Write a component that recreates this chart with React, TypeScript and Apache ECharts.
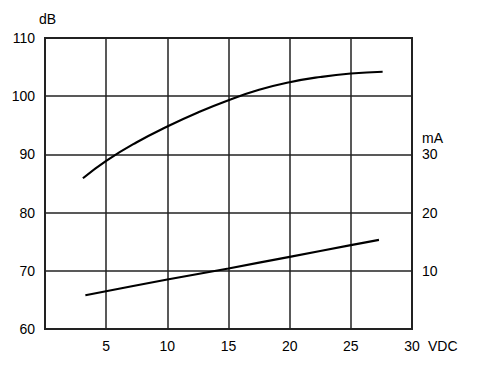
import React, { useEffect, useRef } from "react";
import * as echarts from "echarts";

const voltsDb = [3.1, 5, 7.5, 10, 12.5, 15, 17.5, 20, 22.5, 25, 27.6];
const dbValues = [85.9, 88.9, 92.1, 94.8, 97.2, 99.3, 101.1, 102.4, 103.3, 103.9, 104.2];
const voltsMa = [3.3, 10, 15, 20, 25, 27.3];
const maValues = [5.8, 8.5, 10.4, 12.4, 14.4, 15.3];
const rightTickLabels = [10, 20, 30];

const FONT = "'Liberation Sans', Arial, sans-serif";
const INK = "#000";
const GRID = "#222";

export default function App() {
  const ref = useRef<HTMLDivElement>(null);
  useEffect(() => {
    if (!ref.current) return;
    const chart = echarts.init(ref.current, null, { renderer: "svg" });
    const lastDb = voltsDb.length - 1;
    const lastMa = voltsMa.length - 1;
    chart.setOption({
      animation: false,
      backgroundColor: "#fff",
      grid: {
        left: 45,
        right: 66,
        top: 38,
        bottom: 49,
        show: true,
        borderColor: GRID,
        borderWidth: 2,
      },
      xAxis: {
        type: "value",
        min: 0,
        max: 30,
        interval: 5,
        name: "VDC",
        nameLocation: "end",
        nameGap: 16,
        nameTextStyle: {
          color: INK,
          fontFamily: FONT,
          fontSize: 14,
          verticalAlign: "top",
          padding: [10, 0, 0, 0],
        },
        axisLine: { show: true, lineStyle: { color: GRID, width: 2 } },
        axisTick: { show: false },
        axisLabel: {
          color: INK,
          fontFamily: FONT,
          fontSize: 14,
          margin: 10,
          formatter: (v: number) => (v === 0 ? "" : String(v)),
        },
        splitLine: { show: true, lineStyle: { color: GRID, width: 1.5 } },
      },
      yAxis: [
        {
          type: "value",
          min: 60,
          max: 110,
          interval: 10,
          name: "dB",
          nameLocation: "end",
          nameGap: 12,
          nameTextStyle: {
            color: INK,
            fontFamily: FONT,
            fontSize: 14,
            padding: [0, 0, 0, 5],
          },
          axisLine: { show: true, lineStyle: { color: GRID, width: 2 } },
          axisTick: { show: false },
          axisLabel: { color: INK, fontFamily: FONT, fontSize: 14, margin: 10 },
          splitLine: { show: true, lineStyle: { color: GRID, width: 1.5 } },
        },
        {
          type: "value",
          min: 0,
          max: 50,
          interval: 10,
          position: "right",
          axisLine: { show: false },
          axisTick: { show: false },
          axisLabel: {
            color: INK,
            fontFamily: FONT,
            fontSize: 14,
            margin: 10,
            formatter: (v: number) =>
              rightTickLabels.includes(v) ? String(v) : "",
          },
          splitLine: { show: false },
        },
      ],
      graphic: [
        {
          type: "text",
          left: 422,
          top: 131,
          style: { text: "mA", fill: INK, font: `14px ${FONT}` },
        },
      ],
      series: [
        {
          type: "line",
          yAxisIndex: 0,
          smooth: 0.5,
          showSymbol: false,
          symbol: "none",
          lineStyle: { color: "#000", width: 2.2 },
          data: voltsDb.map((x, i) => {
            const d: any = { value: [x, dbValues[i]] };
            if (i === lastDb) {
              d.label = {
                show: true,
                formatter: "dB",
                position: "top",
                distance: 9,
                offset: [-4, 0],
                color: INK,
                fontFamily: FONT,
                fontSize: 14,
              };
            }
            return d;
          }),
        },
        {
          type: "line",
          yAxisIndex: 1,
          smooth: 0.3,
          showSymbol: false,
          symbol: "none",
          lineStyle: { color: "#000", width: 2.2 },
          data: voltsMa.map((x, i) => {
            const d: any = { value: [x, maValues[i]] };
            if (i === lastMa) {
              d.label = {
                show: true,
                formatter: "mA",
                position: "top",
                distance: 6,
                color: INK,
                fontFamily: FONT,
                fontSize: 14,
              };
            }
            return d;
          }),
        },
      ],
    });
    return () => chart.dispose();
  }, []);
  return (
    <div
      ref={ref}
      style={{ position: "absolute", left: 0, top: 0, width: 478, height: 378 }}
    />
  );
}
